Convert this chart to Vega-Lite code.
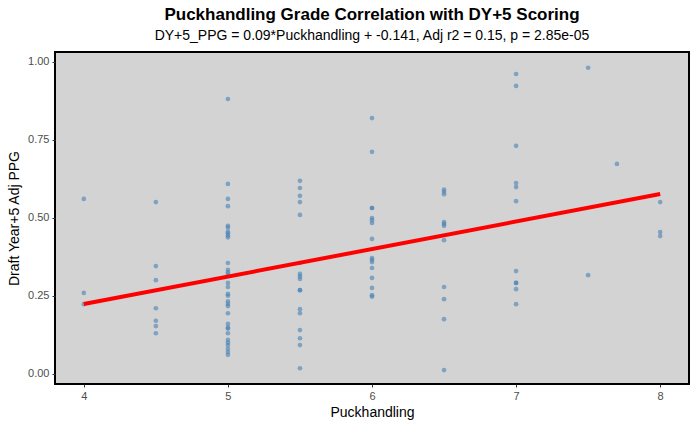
{
  "$schema": "https://vega.github.io/schema/vega-lite/v6.json",
  "width": 634,
  "height": 332,
  "autosize": "none",
  "padding": {"left": 55, "top": 52, "right": 6, "bottom": 44},
  "background": "white",
  "config": {
    "font": "Liberation Sans",
    "view": {"fill": "#d3d3d3", "stroke": "black", "strokeWidth": 2},
    "axis": {"grid": false, "domain": false, "tickColor": "#333333", "tickSize": 3, "labelColor": "#4d4d4d", "labelFontSize": 11, "titleFontSize": 14, "titleFontWeight": "normal", "titleColor": "black", "labelPadding": 3}
  },
  "title": {
    "text": "Puckhandling Grade Correlation with DY+5 Scoring",
    "subtitle": "DY+5_PPG = 0.09*Puckhandling + -0.141, Adj r2 = 0.15, p = 2.85e-05",
    "anchor": "middle",
    "fontSize": 17,
    "fontWeight": "bold",
    "subtitleFontSize": 14,
    "subtitleColor": "black",
    "subtitlePadding": 5,
    "offset": 8
  },
  "data": {
    "values": [
      {"Puckhandling": 4, "PPG": 0.56}, {"Puckhandling": 4, "PPG": 0.259}, {"Puckhandling": 4, "PPG": 0.223},
      {"Puckhandling": 4.5, "PPG": 0.55}, {"Puckhandling": 4.5, "PPG": 0.345}, {"Puckhandling": 4.5, "PPG": 0.3}, {"Puckhandling": 4.5, "PPG": 0.21}, {"Puckhandling": 4.5, "PPG": 0.17}, {"Puckhandling": 4.5, "PPG": 0.153}, {"Puckhandling": 4.5, "PPG": 0.13},
      {"Puckhandling": 5, "PPG": 0.88}, {"Puckhandling": 5, "PPG": 0.608}, {"Puckhandling": 5, "PPG": 0.56}, {"Puckhandling": 5, "PPG": 0.537}, {"Puckhandling": 5, "PPG": 0.474}, {"Puckhandling": 5, "PPG": 0.468}, {"Puckhandling": 5, "PPG": 0.455}, {"Puckhandling": 5, "PPG": 0.45}, {"Puckhandling": 5, "PPG": 0.443}, {"Puckhandling": 5, "PPG": 0.437},
      {"Puckhandling": 5, "PPG": 0.355}, {"Puckhandling": 5, "PPG": 0.333}, {"Puckhandling": 5, "PPG": 0.325}, {"Puckhandling": 5, "PPG": 0.318}, {"Puckhandling": 5, "PPG": 0.291}, {"Puckhandling": 5, "PPG": 0.278}, {"Puckhandling": 5, "PPG": 0.256}, {"Puckhandling": 5, "PPG": 0.25}, {"Puckhandling": 5, "PPG": 0.232}, {"Puckhandling": 5, "PPG": 0.224}, {"Puckhandling": 5, "PPG": 0.217},
      {"Puckhandling": 5, "PPG": 0.194}, {"Puckhandling": 5, "PPG": 0.16}, {"Puckhandling": 5, "PPG": 0.148}, {"Puckhandling": 5, "PPG": 0.145}, {"Puckhandling": 5, "PPG": 0.13}, {"Puckhandling": 5, "PPG": 0.109}, {"Puckhandling": 5, "PPG": 0.1}, {"Puckhandling": 5, "PPG": 0.092}, {"Puckhandling": 5, "PPG": 0.08}, {"Puckhandling": 5, "PPG": 0.07}, {"Puckhandling": 5, "PPG": 0.061},
      {"Puckhandling": 5.5, "PPG": 0.618}, {"Puckhandling": 5.5, "PPG": 0.595}, {"Puckhandling": 5.5, "PPG": 0.57}, {"Puckhandling": 5.5, "PPG": 0.55}, {"Puckhandling": 5.5, "PPG": 0.509}, {"Puckhandling": 5.5, "PPG": 0.355}, {"Puckhandling": 5.5, "PPG": 0.32}, {"Puckhandling": 5.5, "PPG": 0.312}, {"Puckhandling": 5.5, "PPG": 0.304}, {"Puckhandling": 5.5, "PPG": 0.268}, {"Puckhandling": 5.5, "PPG": 0.268}, {"Puckhandling": 5.5, "PPG": 0.207}, {"Puckhandling": 5.5, "PPG": 0.194}, {"Puckhandling": 5.5, "PPG": 0.14}, {"Puckhandling": 5.5, "PPG": 0.114}, {"Puckhandling": 5.5, "PPG": 0.092}, {"Puckhandling": 5.5, "PPG": 0.018},
      {"Puckhandling": 6, "PPG": 0.819}, {"Puckhandling": 6, "PPG": 0.711}, {"Puckhandling": 6, "PPG": 0.531}, {"Puckhandling": 6, "PPG": 0.531}, {"Puckhandling": 6, "PPG": 0.499}, {"Puckhandling": 6, "PPG": 0.492}, {"Puckhandling": 6, "PPG": 0.483}, {"Puckhandling": 6, "PPG": 0.432}, {"Puckhandling": 6, "PPG": 0.371}, {"Puckhandling": 6, "PPG": 0.365}, {"Puckhandling": 6, "PPG": 0.358}, {"Puckhandling": 6, "PPG": 0.339}, {"Puckhandling": 6, "PPG": 0.307}, {"Puckhandling": 6, "PPG": 0.275}, {"Puckhandling": 6, "PPG": 0.252}, {"Puckhandling": 6, "PPG": 0.247},
      {"Puckhandling": 6.5, "PPG": 0.59}, {"Puckhandling": 6.5, "PPG": 0.583}, {"Puckhandling": 6.5, "PPG": 0.575}, {"Puckhandling": 6.5, "PPG": 0.486}, {"Puckhandling": 6.5, "PPG": 0.48}, {"Puckhandling": 6.5, "PPG": 0.474}, {"Puckhandling": 6.5, "PPG": 0.428}, {"Puckhandling": 6.5, "PPG": 0.278}, {"Puckhandling": 6.5, "PPG": 0.239}, {"Puckhandling": 6.5, "PPG": 0.175}, {"Puckhandling": 6.5, "PPG": 0.012},
      {"Puckhandling": 7, "PPG": 0.96}, {"Puckhandling": 7, "PPG": 0.922}, {"Puckhandling": 7, "PPG": 0.73}, {"Puckhandling": 7, "PPG": 0.611}, {"Puckhandling": 7, "PPG": 0.598}, {"Puckhandling": 7, "PPG": 0.553}, {"Puckhandling": 7, "PPG": 0.329}, {"Puckhandling": 7, "PPG": 0.291}, {"Puckhandling": 7, "PPG": 0.291}, {"Puckhandling": 7, "PPG": 0.271}, {"Puckhandling": 7, "PPG": 0.223},
      {"Puckhandling": 7.5, "PPG": 0.98}, {"Puckhandling": 7.5, "PPG": 0.316},
      {"Puckhandling": 7.7, "PPG": 0.672},
      {"Puckhandling": 8, "PPG": 0.55}, {"Puckhandling": 8, "PPG": 0.454}, {"Puckhandling": 8, "PPG": 0.441}
    ]
  },
  "encoding": {
    "x": {"field": "Puckhandling", "type": "quantitative", "title": "Puckhandling",
      "scale": {"domain": [3.8, 8.2], "nice": false, "zero": false},
      "axis": {"values": [4, 5, 6, 7, 8], "format": "d", "titlePadding": 4}},
    "y": {"field": "PPG", "type": "quantitative", "title": "Draft Year+5 Adj PPG",
      "scale": {"domain": [-0.0325, 1.0305], "nice": false, "zero": false},
      "axis": {"values": [0, 0.25, 0.5, 0.75, 1], "format": ".2f", "titlePadding": 6}}
  },
  "layer": [
    {"mark": {"type": "circle", "size": 22, "color": "#4682b4", "opacity": 0.6}},
    {"transform": [{"regression": "PPG", "on": "Puckhandling", "extent": [4, 8]}],
      "mark": {"type": "line", "color": "#ff0000", "strokeWidth": 4}}
  ]
}
